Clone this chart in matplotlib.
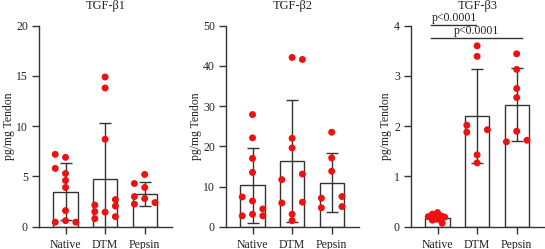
import matplotlib
matplotlib.use("Agg")
import matplotlib.pyplot as plt
import numpy as np

plt.rcParams['font.family'] = ['Liberation Serif', 'DejaVu Serif']

groups = ["Native", "DTM", "Pepsin"]

# TGF-b1
b1_points = [
    [7.2, 5.8, 6.9, 5.3, 4.6, 3.9, 1.6, 0.45, 0.6, 0.45],
    [14.9, 13.8, 8.7, 2.15, 1.5, 0.8, 1.45, 2.7, 2.05, 1.0],
    [5.2, 4.3, 3.9, 3.0, 2.8, 2.25, 2.4],
]
b1_offsets = [
    [-1, -1, 0, 0, 0, 0, 0, -1, 0, 1],
    [0, 0, 0, -1, -1, -1, 0, 1, 1, 1],
    [0, -1, 0, -1, 0, -1, 1],
]
b1_mean = [3.5, 4.75, 3.25]
b1_sd = [2.85, 5.6, 1.15]

# TGF-b2
b2_points = [
    [27.9, 22.1, 17.0, 13.5, 7.4, 6.4, 3.1, 4.4, 2.7, 2.7],
    [42.1, 41.6, 22.0, 19.6, 11.7, 13.1, 5.9, 6.1, 3.1, 1.5],
    [23.5, 17.1, 13.8, 7.1, 7.5, 4.7, 5.0],
]
b2_offsets = [
    [0, 0, 0, 0, -1, 0, 0, 1, -1, 1],
    [0, 1, 0, 0, -1, 1, -1, 1, 0, 0],
    [0, 0, 0, -1, 1, -1, 1],
]
b2_mean = [10.3, 16.35, 10.95]
b2_sd = [9.3, 15.2, 7.3]

# TGF-b3
b3_points = [
    [0.25, 0.28, 0.13, 0.15, 0.21, 0.19, 0.07, 0.20, 0.22, 0.16],
    [3.6, 3.39, 2.02, 1.88, 1.93, 1.43, 1.27],
    [3.44, 3.13, 2.75, 2.57, 1.9, 1.69, 1.72],
]
b3_offsets = [
    [-0.5, 0, -0.5, 0, 0.4, 0.7, 0.45, -0.9, 0.2, -0.2],
    [0, 0, -1, -1, 1, 0, 0],
    [0, 0, 0, 0, 0, -1, 1],
]
b3_mean = [0.17, 2.2, 2.43]
b3_sd = [0.06, 0.93, 0.72]

titles = ["TGF-β1", "TGF-β2", "TGF-β3"]
yticks = [[0, 5, 10, 15, 20], [0, 10, 20, 30, 40, 50], [0, 1, 2, 3, 4]]
ylims = [20, 50, 4]

pvals = ["p<0.0001", "p<0.0001"]

fig = plt.figure(figsize=(5.45, 2.49), dpi=100)
lefts = [39/545, 226/545, 411/545]
w = 133/545
bottom = 1 - 226.7/249
height = (226.7 - 25.7)/249

dark = "#333333"
red = "#ee1111"

datasets = [
    (b1_points, b1_offsets, b1_mean, b1_sd),
    (b2_points, b2_offsets, b2_mean, b2_sd),
    (b3_points, b3_offsets, b3_mean, b3_sd),
]

for i, (pts, offs, means, sds) in enumerate(datasets):
    ax = fig.add_axes([lefts[i], bottom, w, height])
    x = np.arange(len(groups))
    ax.bar(x, means, width=0.61, color="white", edgecolor=dark, linewidth=1.0, zorder=1)
    ax.errorbar(x, means, yerr=sds, fmt="none", ecolor=dark, elinewidth=1.0,
                capsize=4, capthick=1.0, zorder=2)
    for j in range(len(groups)):
        xs = j + 0.26 * np.array(offs[j])
        ax.scatter(xs, pts[j], s=25, color=red, edgecolors="none", zorder=3, clip_on=False)
    ax.set_xlim(-0.67, 2.69)
    ax.set_ylim(0, ylims[i])
    ax.set_yticks(yticks[i])
    ax.set_xticks(x)
    ax.set_xticklabels(groups)
    for s in ["top", "right"]:
        ax.spines[s].set_visible(False)
    for s in ["left", "bottom"]:
        ax.spines[s].set_color(dark)
        ax.spines[s].set_linewidth(1.0)
    ax.tick_params(axis="both", colors=dark, labelcolor="#222222", labelsize=8.5,
                   length=5, width=1.0)
    ax.tick_params(axis="y", pad=3)
    ax.set_ylabel("pg/mg Tendon", fontsize=8.5, color="#222222", labelpad=1)
    ax.set_title(titles[i], fontsize=9, color="#222222", pad=12)
    if i == 2:
        ax.plot([-0.17, 0.98], [4.01, 4.01], color=dark, lw=1.0, clip_on=False)
        ax.text(0.43, 4.04, pvals[0], ha="center", va="bottom", fontsize=8.5, color="#222222")
        ax.plot([-0.17, 2.13], [3.75, 3.75], color=dark, lw=1.0, clip_on=False)
        ax.text(0.98, 3.78, pvals[1], ha="center", va="bottom", fontsize=8.5, color="#222222")

fig.savefig("out.png", dpi=100)
